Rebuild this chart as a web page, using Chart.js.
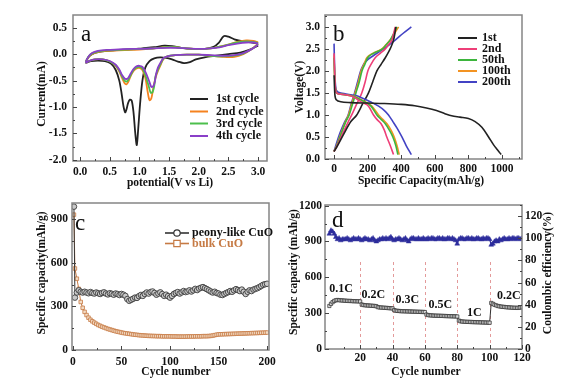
<!DOCTYPE html>
<html>
<head>
<meta charset="utf-8">
<script src="https://cdn.jsdelivr.net/npm/chart.js@4.4.1/dist/chart.umd.min.js"></script>
<style>
  html, body { margin: 0; padding: 0; background: #fff; }
  #fig { position: relative; width: 570px; height: 384px; overflow: hidden; }
  #fig canvas { position: absolute; }
</style>
</head>
<body>
<div id="fig">
  <canvas id="pa" width="285" height="192" style="left:0;top:0"></canvas>
  <canvas id="pb" width="285" height="192" style="left:285px;top:0"></canvas>
  <canvas id="pc" width="277" height="192" style="left:0;top:192px"></canvas>
  <canvas id="pd" width="285" height="192" style="left:285px;top:192px"></canvas>
</div>
<script>
// ---- panel a: cyclic voltammetry (cathodic sweep 3.0 -> 0.1, then anodic back) ----
const cvLabels = ['1st cycle', '2nd cycle', '3rd cycle', '4th cycle'];
const cv1V = [3.0, 2.85, 2.7, 2.5, 2.3, 2.1, 1.95, 1.85, 1.75, 1.65, 1.55, 1.45, 1.35, 1.25, 1.17, 1.1, 1.05, 1.01, 0.98, 0.955,
  0.93, 0.9, 0.87, 0.84, 0.81, 0.78, 0.76, 0.73, 0.7, 0.66, 0.6, 0.52, 0.42, 0.3, 0.18, 0.1,
  0.14, 0.2, 0.3, 0.45, 0.65, 0.85, 1.05, 1.25, 1.42, 1.55, 1.7, 1.9, 2.1, 2.25, 2.34, 2.42, 2.5, 2.6, 2.75, 2.9, 3.0];
const cv1I = [0.16, 0.08, 0.03, 0.0, -0.03, -0.06, -0.1, -0.15, -0.17, -0.14, -0.1, -0.07, -0.06, -0.08, -0.13, -0.25, -0.5, -0.95, -1.4, -1.72,
  -1.5, -1.1, -0.88, -0.86, -0.92, -1.05, -1.1, -0.98, -0.75, -0.5, -0.3, -0.18, -0.13, -0.12, -0.13, -0.16,
  -0.06, 0.0, 0.04, 0.06, 0.08, 0.09, 0.11, 0.13, 0.16, 0.15, 0.12, 0.1, 0.1, 0.14, 0.22, 0.34, 0.33, 0.28, 0.24, 0.22, 0.2];
const cv2V = [3.0, 2.9, 2.75, 2.6, 2.4, 2.2, 2.0, 1.8, 1.6, 1.47, 1.4, 1.35, 1.31, 1.27, 1.23, 1.2, 1.17, 1.14, 1.1, 1.05,
  1.0, 0.95, 0.9, 0.85, 0.81, 0.78, 0.75, 0.71, 0.66, 0.6, 0.5, 0.38, 0.25, 0.15, 0.1,
  0.14, 0.2, 0.3, 0.45, 0.65, 0.85, 1.05, 1.25, 1.45, 1.6, 1.8, 2.0, 2.2, 2.35, 2.5, 2.65, 2.8, 2.92, 3.0];
const cv2I = [0.2, 0.1, 0.0, -0.05, -0.05, -0.03, -0.01, -0.01, -0.02, -0.04, -0.1, -0.22, -0.32, -0.45, -0.66, -0.84, -0.87, -0.72, -0.45, -0.3,
  -0.26, -0.27, -0.32, -0.42, -0.53, -0.57, -0.55, -0.46, -0.33, -0.22, -0.14, -0.1, -0.1, -0.13, -0.16,
  -0.06, 0.0, 0.04, 0.06, 0.07, 0.08, 0.09, 0.11, 0.13, 0.13, 0.11, 0.1, 0.11, 0.14, 0.18, 0.23, 0.26, 0.25, 0.22];
const cv3V = [3.0, 2.9, 2.75, 2.6, 2.4, 2.2, 2.0, 1.8, 1.6, 1.47, 1.4, 1.35, 1.31, 1.27, 1.25, 1.22, 1.19, 1.16, 1.1, 1.05,
  1.0, 0.95, 0.9, 0.85, 0.81, 0.78, 0.75, 0.71, 0.66, 0.6, 0.5, 0.38, 0.25, 0.15, 0.1,
  0.14, 0.2, 0.3, 0.45, 0.65, 0.85, 1.05, 1.25, 1.45, 1.6, 1.8, 2.0, 2.2, 2.35, 2.5, 2.65, 2.8, 2.92, 3.0];
const cv3I = [0.19, 0.1, 0.01, -0.03, -0.04, -0.03, -0.01, -0.01, -0.02, -0.04, -0.09, -0.2, -0.3, -0.42, -0.6, -0.72, -0.73, -0.62, -0.4, -0.27,
  -0.24, -0.25, -0.3, -0.4, -0.49, -0.52, -0.5, -0.43, -0.31, -0.21, -0.14, -0.1, -0.1, -0.13, -0.16,
  -0.05, 0.01, 0.05, 0.07, 0.08, 0.09, 0.1, 0.11, 0.13, 0.13, 0.11, 0.1, 0.11, 0.14, 0.18, 0.22, 0.24, 0.23, 0.21];
const cv4V = [3.0, 2.9, 2.75, 2.6, 2.4, 2.2, 2.0, 1.8, 1.6, 1.47, 1.4, 1.35, 1.31, 1.28, 1.26, 1.23, 1.2, 1.17, 1.11, 1.05,
  1.0, 0.95, 0.9, 0.85, 0.81, 0.78, 0.75, 0.71, 0.66, 0.6, 0.5, 0.38, 0.25, 0.15, 0.1,
  0.14, 0.2, 0.3, 0.45, 0.65, 0.85, 1.05, 1.25, 1.45, 1.6, 1.8, 2.0, 2.2, 2.35, 2.5, 2.65, 2.8, 2.92, 3.0];
const cv4I = [0.18, 0.1, 0.02, -0.02, -0.03, -0.02, -0.01, -0.01, -0.02, -0.04, -0.08, -0.17, -0.26, -0.38, -0.52, -0.61, -0.62, -0.53, -0.36, -0.24,
  -0.22, -0.23, -0.28, -0.37, -0.45, -0.47, -0.46, -0.4, -0.29, -0.2, -0.13, -0.1, -0.1, -0.13, -0.16,
  -0.05, 0.02, 0.06, 0.08, 0.09, 0.1, 0.1, 0.11, 0.12, 0.12, 0.11, 0.1, 0.11, 0.13, 0.17, 0.2, 0.22, 0.22, 0.2];
const aTicksX = [0, 0.5, 1, 1.5, 2, 2.5, 3];
const aTicksY = [-2, -1.5, -1, -0.5, 0, 0.5];

// ---- panel b: discharge / charge profiles ----
const gcLabels = ['1st', '2nd', '50th', '100th', '200th'];
const dis1Q = [0, 5, 15, 40, 100, 200, 300, 400, 480, 550, 610, 660, 700, 750, 800, 840, 880, 920, 950, 975, 995];
const dis1V = [1.9, 1.45, 1.34, 1.3, 1.28, 1.27, 1.26, 1.24, 1.21, 1.16, 1.1, 1.03, 0.98, 0.95, 0.92, 0.85, 0.72, 0.5, 0.32, 0.2, 0.1];
const dis2Q = [0, 3, 8, 15, 40, 80, 110, 140, 170, 205, 235, 255, 280, 300, 314, 335, 354];
const dis2V = [2.4, 2.0, 1.6, 1.5, 1.47, 1.45, 1.42, 1.35, 1.28, 1.2, 1.0, 0.9, 0.8, 0.65, 0.5, 0.3, 0.1];
const dis50Q = [0, 3, 8, 15, 40, 80, 120, 150, 180, 220, 255, 280, 305, 330, 350, 368, 380];
const dis50V = [2.3, 1.9, 1.6, 1.5, 1.47, 1.45, 1.42, 1.36, 1.3, 1.2, 1.0, 0.9, 0.8, 0.65, 0.5, 0.3, 0.1];
const dis100Q = [0, 3, 8, 15, 40, 80, 125, 155, 185, 225, 265, 290, 315, 340, 358, 375, 388];
const dis100V = [2.35, 1.9, 1.6, 1.5, 1.47, 1.45, 1.42, 1.36, 1.3, 1.2, 1.0, 0.9, 0.8, 0.65, 0.5, 0.3, 0.1];
const dis200Q = [0, 3, 8, 15, 40, 80, 130, 170, 215, 265, 300, 324, 350, 375, 404, 430, 460];
const dis200V = [2.62, 2.1, 1.7, 1.55, 1.5, 1.47, 1.44, 1.38, 1.3, 1.2, 1.1, 1.0, 0.85, 0.7, 0.5, 0.3, 0.1];
const chgV = [0.17, 0.3, 0.55, 0.85, 1.0, 1.25, 1.5, 1.75, 2.0, 2.15, 2.3, 2.4, 2.5, 2.6, 2.7, 2.85, 3.0];
const chg1Q = [0, 20, 55, 100, 135, 170, 205, 230, 255, 280, 305, 320, 334, 345, 354, 362, 368];
const chg2Q = [0, 18, 48, 85, 105, 135, 165, 185, 201, 220, 245, 275, 305, 325, 344, 355, 364];
const chg50Q = [0, 16, 40, 70, 90, 110, 130, 150, 166, 183, 200, 235, 288, 312, 334, 355, 374];
const chg100Q = [0, 15, 38, 68, 86, 105, 125, 145, 161, 178, 195, 230, 285, 310, 334, 360, 384];
const chg200Q = [0, 14, 36, 64, 84, 102, 122, 140, 158, 172, 185, 235, 295, 330, 364, 410, 460];
const chg200V = [0.17, 0.35, 0.6, 0.85, 1.0, 1.25, 1.5, 1.75, 2.0, 2.12, 2.2, 2.35, 2.5, 2.6, 2.7, 2.85, 3.0];
const bTicksX = [0, 200, 400, 600, 800, 1000];
const bTicksY = [0, 0.5, 1, 1.5, 2, 2.5, 3];

// ---- panel c: cycling, values at cycle 1 then every 2nd cycle ----
const cLabels = ['peony-like CuO', 'bulk CuO'];
const peonyCap = [985, 360, 395, 410, 400, 395, 400, 395, 390, 398, 392, 388, 395, 390, 385, 392, 396, 388, 382, 390,
  386, 380, 388, 384, 378, 385, 380, 372, 350, 338, 345, 352, 360, 358, 370, 378, 372, 385, 395, 388,
  398, 402, 392, 380, 388, 396, 384, 372, 380, 370, 360, 372, 385, 392, 398, 388, 396, 405, 398, 402,
  410, 402, 410, 420, 412, 422, 428, 432, 425, 418, 410, 402, 395, 400, 392, 388, 380, 378, 385, 392,
  398, 405, 400, 410, 418, 412, 405, 415, 400, 385, 400, 410, 405, 415, 420, 425, 432, 440, 448, 452, 455];
const bulkCap = [930, 560, 490, 420, 330, 290, 262, 240, 222, 208, 197, 188, 180, 172, 166, 160, 155, 150, 145, 141,
  137, 133, 129, 126, 123, 120, 117, 115, 113, 111, 109, 107, 105, 104, 102, 101, 100, 99, 98, 97,
  97, 96, 96, 95, 95, 95, 94, 94, 94, 94, 94, 93, 93, 93, 92, 92, 92, 92, 92, 93,
  93, 93, 93, 94, 94, 94, 94, 95, 95, 95, 96, 97, 99, 102, 105, 107, 108, 108, 109, 109,
  110, 110, 111, 111, 112, 112, 113, 113, 114, 114, 115, 115, 116, 116, 117, 117, 118, 118, 119, 119, 120];
const cTicksX = [0, 50, 100, 150, 200];
const cTicksY = [0, 300, 600, 900];

// ---- panel d: rate capability + coulombic efficiency, cycles 1..120 ----
const rateCap = [360, 378, 392, 402, 408, 410, 409, 407, 406, 405,
  404, 403, 402, 402, 401, 400, 400, 399, 399, 398,
  372, 368, 366, 365, 364, 363, 362, 361, 360, 358,
  350, 348, 347, 346, 345, 344, 343, 342, 341, 340,
  325, 321, 319, 318, 317, 316, 316, 315, 315, 314,
  314, 313, 313, 312, 312, 311, 311, 310, 310, 309,
  288, 284, 282, 281, 280, 279, 279, 278, 278, 277,
  277, 276, 276, 275, 275, 274, 274, 273, 273, 272,
  238, 232, 230, 229, 228, 227, 227, 226, 226, 225,
  225, 224, 224, 223, 223, 222, 222, 221, 221, 220,
  385, 378, 370, 365, 360, 357, 355, 353, 352, 350,
  349, 348, 347, 346, 345, 345, 344, 345, 347, 350];
const rateCE = [104, 107, 106, 104, 101, 99, 100, 98, 99, 99,
  99, 100, 99, 98, 99, 100, 99, 99, 100, 99,
  98, 99, 100, 99, 99, 98, 99, 100, 98, 97,
  98, 99, 99, 100, 99, 100, 99, 100, 101, 99,
  98, 99, 99, 100, 99, 98, 99, 100, 98, 97,
  99, 100, 100, 99, 99, 100, 99, 99, 100, 99,
  99, 100, 99, 100, 100, 99, 99, 100, 100, 99,
  100, 99, 99, 100, 100, 99, 100, 99, 98, 95,
  99, 100, 100, 99, 99, 100, 100, 99, 100, 99,
  99, 100, 100, 99, 99, 100, 99, 100, 100, 99,
  94, 95, 97, 98, 97, 99, 98, 99, 100, 99,
  99, 100, 99, 100, 100, 99, 100, 100, 99, 100];
const rateNames = ['0.1C', '0.2C', '0.3C', '0.5C', '1C', '0.2C'];
const rateNameCycle = [8.2, 28.2, 49.2, 69.5, 90.5, 111.8];
const rateNameCap = [500, 453, 415, 372, 305, 445];
const rateSteps = [20, 40, 60, 80, 100];
const dTicksX = [20, 40, 60, 80, 100, 120];
const dTicksY = [0, 300, 600, 900, 1200];
const dTicksY2 = [0, 20, 40, 60, 80, 100, 120];

// ---------------------------------------------------------------
const SERIF = 'Liberation Serif';
const TICK_FONT = { family: SERIF, size: 11.5, weight: 'bold' };
const TITLE = "bold 11.5px 'Liberation Serif'";
const LETTER = "23px 'Liberation Serif'";
const LEGEND_FONT = "bold 12px 'Liberation Serif'";

const pts = (xs, ys) => xs.map((x, i) => ({ x, y: ys[i] }));

const decor = {
  id: 'decor',
  beforeDatasetsDraw(chart, args, o) {
    if (!o.vlines) return;
    const { ctx } = chart;
    const xs = chart.scales.x, ys = chart.scales.y;
    ctx.save();
    ctx.strokeStyle = o.vlines.color; ctx.lineWidth = 1; ctx.setLineDash([3, 3]);
    o.vlines.values.forEach(v => {
      const px = Math.round(xs.getPixelForValue(v)) + 0.5;
      ctx.beginPath();
      ctx.moveTo(px, ys.getPixelForValue(o.vlines.from));
      ctx.lineTo(px, ys.getPixelForValue(o.vlines.to));
      ctx.stroke();
    });
    ctx.restore();
  },
  afterDatasetsDraw(chart, args, o) {
    const { ctx, chartArea: a } = chart;
    ctx.save();
    ctx.strokeStyle = '#858585'; ctx.lineWidth = 1.5;
    ctx.strokeRect(a.left, a.top, a.right - a.left, a.bottom - a.top);
    // inward major / minor tick marks
    ctx.strokeStyle = '#444'; ctx.lineWidth = 1;
    (o.tickAxes || []).forEach(id => {
      const s = chart.scales[id];
      const vals = s.ticks.map(t => t.value);
      const step = vals[1] - vals[0];
      const marks = vals.map(v => [v, 4]);
      for (let v = vals[0] - step / 2; v <= s.max; v += step) if (v >= s.min) marks.push([v, 2]);
      marks.forEach(([v, len]) => {
        const p = Math.round(s.getPixelForValue(v)) + 0.5;
        ctx.beginPath();
        if (s.position === 'bottom') { ctx.moveTo(p, a.bottom); ctx.lineTo(p, a.bottom - len); }
        else if (s.position === 'left') { ctx.moveTo(a.left, p); ctx.lineTo(a.left + len, p); }
        else { ctx.moveTo(a.right, p); ctx.lineTo(a.right - len, p); }
        ctx.stroke();
      });
    });
    // free text (axis titles, panel letter)
    (o.texts || []).forEach(t => {
      ctx.save();
      ctx.font = t.font || TITLE; ctx.fillStyle = t.color || '#111';
      ctx.textAlign = t.align || 'center'; ctx.textBaseline = t.baseline || 'middle';
      ctx.translate(t.x, t.y); if (t.rot) ctx.rotate(t.rot);
      ctx.fillText(t.text, 0, 0);
      ctx.restore();
    });
    // text anchored at data coordinates
    (o.dataTexts || []).forEach(t => {
      ctx.font = t.font || LEGEND_FONT; ctx.fillStyle = '#111';
      ctx.textAlign = 'center'; ctx.textBaseline = 'middle';
      ctx.fillText(t.text, chart.scales.x.getPixelForValue(t.x), chart.scales.y.getPixelForValue(t.y));
    });
    // legend
    if (o.legend) {
      const L = o.legend;
      L.items.forEach((it, i) => {
        const y = L.ys[i];
        ctx.strokeStyle = it.color; ctx.lineWidth = L.lineWidth || 2;
        ctx.beginPath(); ctx.moveTo(L.x0, y); ctx.lineTo(L.x1, y); ctx.stroke();
        if (it.marker) {
          const mx = (L.x0 + L.x1) / 2;
          ctx.fillStyle = '#fff'; ctx.lineWidth = 1.2;
          ctx.beginPath();
          if (it.marker === 'circle') ctx.arc(mx, y, 3.2, 0, Math.PI * 2);
          else ctx.rect(mx - 3.2, y - 3.2, 6.4, 6.4);
          ctx.fill(); ctx.stroke();
        }
        ctx.font = L.font; ctx.fillStyle = it.textColor || '#111';
        ctx.textAlign = 'left'; ctx.textBaseline = 'middle';
        ctx.fillText(it.text, L.tx, y);
      });
    }
    ctx.restore();
  }
};
Chart.register(decor);

function axis(position, min, max, tickVals, size, pad, fmt) {
  return {
    type: 'linear', position, min, max,
    grid: { display: false, drawTicks: false },
    border: { display: false },
    title: { display: false },
    ticks: { font: TICK_FONT, color: '#111', padding: pad, autoSkip: false, maxRotation: 0,
             callback: fmt || (v => String(v)) },
    afterBuildTicks: s => { s.ticks = tickVals.map(v => ({ value: v })); },
    afterFit: s => {
      if (s.isHorizontal()) s.height = size; else s.width = size;
      s.paddingLeft = 0; s.paddingRight = 0; s.paddingTop = 0; s.paddingBottom = 0;
    }
  };
}
const fix1 = v => v.toFixed(1);

function options(pad, scales, decorOpts) {
  return {
    responsive: false, animation: false, devicePixelRatio: 1,
    layout: { padding: pad },
    plugins: { legend: { display: false }, tooltip: { enabled: false }, decor: decorOpts },
    scales
  };
}

// ---- a ----
const cvColors = ['#222222', '#f5821f', '#4cbf4c', '#8a3fc8'];
const cvSets = [[cv1V, cv1I], [cv2V, cv2I], [cv3V, cv3I], [cv4V, cv4I]];
new Chart(document.getElementById('pa'), {
  type: 'scatter',
  data: {
    datasets: cvSets.map((s, i) => ({
      label: cvLabels[i], data: pts(s[0], s[1]), showLine: true, pointRadius: 0,
      borderColor: cvColors[i], borderWidth: 1.8, tension: 0.3, order: 3 - i
    }))
  },
  options: options({ left: 30, top: 15, right: 18, bottom: 0 }, {
    x: axis('bottom', -0.12, 3.15, aTicksX, 31, 4, fix1),
    y: axis('left', -2.02, 0.74, aTicksY, 43, 6, fix1)
  }, {
    tickAxes: ['x', 'y'],
    texts: [
      { text: 'Current(mA)', x: 42, y: 94, rot: -Math.PI / 2 },
      { text: 'potential(V vs Li)', x: 170, y: 183 },
      { text: 'a', x: 81, y: 41, font: LETTER, align: 'left', baseline: 'alphabetic' }
    ],
    legend: { x0: 190, x1: 208, tx: 216, ys: [99, 111.5, 123.5, 136], font: LEGEND_FONT,
              items: cvLabels.map((t, i) => ({ text: t, color: cvColors[i] })) }
  })
});

// ---- b ----
const gcColors = ['#222222', '#ee3f78', '#3db53d', '#f39322', '#4343c4'];
const disSets = [[dis1Q, dis1V], [dis2Q, dis2V], [dis50Q, dis50V], [dis100Q, dis100V], [dis200Q, dis200V]];
const chgSets = [[chg1Q, chgV], [chg2Q, chgV], [chg50Q, chgV], [chg100Q, chgV], [chg200Q, chg200V]];
const bDatasets = [];
disSets.forEach((s, i) => bDatasets.push({ label: gcLabels[i], data: pts(s[0], s[1]), showLine: true, pointRadius: 0,
  borderColor: gcColors[i], borderWidth: 1.6, cubicInterpolationMode: 'monotone' }));
chgSets.forEach((s, i) => bDatasets.push({ label: gcLabels[i], data: pts(s[0], s[1]), showLine: true, pointRadius: 0,
  borderColor: gcColors[i], borderWidth: 1.6, cubicInterpolationMode: 'monotone' }));
new Chart(document.getElementById('pb'), {
  type: 'scatter',
  data: { datasets: bDatasets },
  options: options({ left: 3, top: 15, right: 48, bottom: 1 }, {
    x: axis('bottom', -54, 1119, bTicksX, 32, 3),
    y: axis('left', 0, 3.27, bTicksY, 37, 5, fix1)
  }, {
    tickAxes: ['x', 'y'],
    texts: [
      { text: 'Voltage(V)', x: 15, y: 87, rot: -Math.PI / 2 },
      { text: 'Specific Capacity(mAh/g)', x: 136, y: 181.5 },
      { text: 'b', x: 48, y: 41, font: LETTER, align: 'left', baseline: 'alphabetic' }
    ],
    legend: { x0: 173, x1: 192, tx: 197, ys: [38, 49, 60, 71, 82], font: LEGEND_FONT,
              items: gcLabels.map((t, i) => ({ text: t, color: gcColors[i] })) }
  })
});

// ---- c ----
const cCycles = peonyCap.map((_, i) => (i === 0 ? 1 : 2 * i));
const peonyColor = '#333333', bulkColor = '#c67a44';
new Chart(document.getElementById('pc'), {
  type: 'scatter',
  data: {
    datasets: [
      { label: cLabels[0], data: pts(cCycles, peonyCap), showLine: true, borderColor: peonyColor, borderWidth: 1,
        pointStyle: 'circle', pointRadius: 2.8, pointBorderWidth: 0.9, pointBorderColor: '#3c3c3c', pointBackgroundColor: '#c9c9c9' },
      { label: cLabels[1], data: pts(cCycles, bulkCap), showLine: true, borderColor: bulkColor, borderWidth: 1,
        pointStyle: 'rect', pointRadius: 2.5, pointBorderWidth: 0.8, pointBorderColor: bulkColor, pointBackgroundColor: '#f3dcc6' }
    ]
  },
  options: options({ left: 30, top: 11, right: 8, bottom: 2 }, {
    x: axis('bottom', -1, 202, cTicksX, 32, 5),
    y: axis('left', 0, 1010, cTicksY, 42, 4)
  }, {
    tickAxes: ['x', 'y'],
    texts: [
      { text: 'Specific capacity(mAh/g)', x: 42, y: 81, rot: -Math.PI / 2 },
      { text: 'Cycle number', x: 176, y: 180.5 },
      { text: 'c', x: 75, y: 38, font: LETTER, align: 'left', baseline: 'alphabetic' }
    ],
    legend: { x0: 165, x1: 189, tx: 192, ys: [41, 51.5], font: LEGEND_FONT, lineWidth: 1.6,
              items: [{ text: cLabels[0], color: peonyColor, marker: 'circle' },
                      { text: cLabels[1], color: bulkColor, textColor: bulkColor, marker: 'rect' }] }
  })
});

// ---- d ----
const dCycles = rateCap.map((_, i) => i + 1);
new Chart(document.getElementById('pd'), {
  type: 'scatter',
  data: {
    datasets: [
      { label: 'Coulombic efficiency', data: pts(dCycles, rateCE), yAxisID: 'y2', showLine: true,
        borderColor: '#2d2d9c', borderWidth: 1.2, pointStyle: 'triangle', pointRadius: 2.8,
        pointBackgroundColor: '#2d2d9c', pointBorderColor: '#2d2d9c', pointBorderWidth: 0.5 },
      { label: 'Specific capacity', data: pts(dCycles, rateCap), yAxisID: 'y', showLine: true,
        borderColor: '#333', borderWidth: 1, pointStyle: 'rect', pointRadius: 2.3,
        pointBackgroundColor: '#dadada', pointBorderColor: '#2a2a2a', pointBorderWidth: 0.7 }
    ]
  },
  options: options({ left: 0, top: 13, right: 12, bottom: 12 }, {
    x: axis('bottom', -1.7, 120, dTicksX, 23, 2),
    y: axis('left', 0, 1205, dTicksY, 40, 3),
    y2: axis('right', 0, 130, dTicksY2, 36, 3)
  }, {
    tickAxes: ['x', 'y', 'y2'],
    vlines: { values: rateSteps, from: 0, to: 750, color: '#e39a9a' },
    dataTexts: rateNames.map((t, i) => ({ text: t, x: rateNameCycle[i], y: rateNameCap[i] })),
    texts: [
      { text: 'Specific capacity (mAh/g)', x: 9.5, y: 80, rot: -Math.PI / 2 },
      { text: 'Coulombic efficiency(%)', x: 263.5, y: 81, rot: -Math.PI / 2 },
      { text: 'Cycle number', x: 141, y: 180 },
      { text: 'd', x: 47, y: 35, font: LETTER, align: 'left', baseline: 'alphabetic' }
    ]
  })
});
</script>
</body>
</html>
